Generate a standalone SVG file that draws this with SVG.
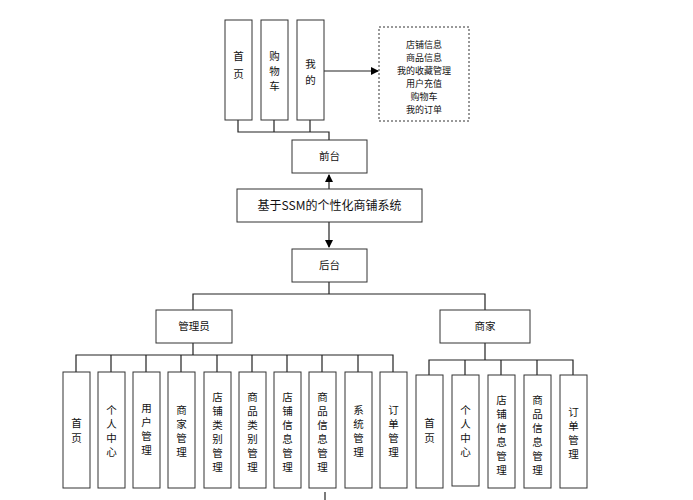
<svg xmlns="http://www.w3.org/2000/svg" width="693" height="500" viewBox="0 0 693 500">
<style>
.b{fill:#fff;stroke:#333;stroke-width:1}
.l{fill:none;stroke:#222;stroke-width:1.2}
text{font-family:"Noto Sans CJK SC","Liberation Sans",sans-serif;font-size:10.5px;fill:#111;text-anchor:middle}
#n-list text{font-size:9px}
</style>
<defs><marker id="a" markerWidth="8" markerHeight="8" refX="7" refY="4" orient="auto" markerUnits="userSpaceOnUse"><path d="M0,0L8,4L0,8z" fill="#000"/></marker></defs>
<rect width="693" height="500" fill="#fff"/>
<g id="connectors" class="l">
<path d="M238,120V132H329V140M274,120V132M310,120V132"/>
<path d="M324,71H378" marker-end="url(#a)"/>
<path d="M329,189V175" marker-end="url(#a)"/>
<path d="M329,222V247" marker-end="url(#a)"/>
<path d="M329,282V294M193,310V294H485V310"/>
<path d="M193,343V355M76,372V355H393V372M111,355V372M146,355V372M181,355V372M217,355V372M252,355V372M287,355V372M322,355V372M358,355V372"/>
<path d="M485,343V360M429,375V360H573V375M465,360V375M501,360V375M537,360V375"/>
<path d="M325,492V500"/>
</g>
<g id="n-home"><rect class="b" x="225" y="20" width="27" height="100"/><text x="238.5" y="60">首</text><text x="238.5" y="78">页</text></g>
<g id="n-cart"><rect class="b" x="261" y="20" width="27" height="100"/><text x="274.5" y="60">购</text><text x="274.5" y="75">物</text><text x="274.5" y="90">车</text></g>
<g id="n-mine"><rect class="b" x="297" y="20" width="27" height="100"/><text x="310.5" y="68">我</text><text x="310.5" y="84">的</text></g>
<g id="n-list"><rect x="379" y="27" width="90" height="94" fill="#fff" stroke="#333" stroke-dasharray="2,2"/>
<text x="424" y="48">店铺信息</text><text x="424" y="61">商品信息</text><text x="424" y="74">我的收藏管理</text><text x="424" y="87">用户充值</text><text x="424" y="100">购物车</text><text x="424" y="113">我的订单</text></g>
<g id="n-front"><rect class="b" x="292" y="140" width="75" height="33"/><text x="329.5" y="160">前台</text></g>
<g id="n-sys"><rect class="b" x="237" y="189" width="185" height="33"/><text x="329.5" y="210" style="font-size:12px">基于SSM的个性化商铺系统</text></g>
<g id="n-back"><rect class="b" x="292" y="249" width="75" height="33"/><text x="329.5" y="269">后台</text></g>
<g id="n-admin"><rect class="b" x="156" y="310" width="76" height="33"/><text x="194" y="330">管理员</text></g>
<g id="n-merchant"><rect class="b" x="440" y="310" width="90" height="33"/><text x="485" y="330">商家</text></g>
<g id="admin-children">
<g id="a1"><rect class="b" x="63" y="372" width="27" height="116"/><text x="76.5" y="427">首</text><text x="76.5" y="442">页</text></g>
<g id="a2"><rect class="b" x="98" y="372" width="27" height="116"/><text x="111.5" y="414">个</text><text x="111.5" y="428">人</text><text x="111.5" y="442">中</text><text x="111.5" y="456">心</text></g>
<g id="a3"><rect class="b" x="133" y="372" width="27" height="116"/><text x="146.5" y="412">用</text><text x="146.5" y="426">户</text><text x="146.5" y="440">管</text><text x="146.5" y="454">理</text></g>
<g id="a4"><rect class="b" x="168" y="372" width="27" height="116"/><text x="181.5" y="414">商</text><text x="181.5" y="428">家</text><text x="181.5" y="442">管</text><text x="181.5" y="456">理</text></g>
<g id="a5"><rect class="b" x="204" y="372" width="27" height="116"/><text x="217.5" y="401">店</text><text x="217.5" y="415">铺</text><text x="217.5" y="429">类</text><text x="217.5" y="443">别</text><text x="217.5" y="457">管</text><text x="217.5" y="471">理</text></g>
<g id="a6"><rect class="b" x="239" y="372" width="27" height="116"/><text x="252.5" y="401">商</text><text x="252.5" y="415">品</text><text x="252.5" y="429">类</text><text x="252.5" y="443">别</text><text x="252.5" y="457">管</text><text x="252.5" y="471">理</text></g>
<g id="a7"><rect class="b" x="274" y="372" width="27" height="116"/><text x="287.5" y="401">店</text><text x="287.5" y="415">铺</text><text x="287.5" y="429">信</text><text x="287.5" y="443">息</text><text x="287.5" y="457">管</text><text x="287.5" y="471">理</text></g>
<g id="a8"><rect class="b" x="309" y="372" width="27" height="116"/><text x="322.5" y="401">商</text><text x="322.5" y="415">品</text><text x="322.5" y="429">信</text><text x="322.5" y="443">息</text><text x="322.5" y="457">管</text><text x="322.5" y="471">理</text></g>
<g id="a9"><rect class="b" x="345" y="372" width="27" height="116"/><text x="358.5" y="414">系</text><text x="358.5" y="428">统</text><text x="358.5" y="442">管</text><text x="358.5" y="456">理</text></g>
<g id="a10"><rect class="b" x="380" y="372" width="27" height="116"/><text x="393.5" y="414">订</text><text x="393.5" y="428">单</text><text x="393.5" y="442">管</text><text x="393.5" y="456">理</text></g>
</g>
<g id="merchant-children">
<g id="m1"><rect class="b" x="416" y="375" width="27" height="113"/><text x="429.5" y="427">首</text><text x="429.5" y="442">页</text></g>
<g id="m2"><rect class="b" x="452" y="375" width="27" height="111"/><text x="465.5" y="414">个</text><text x="465.5" y="428">人</text><text x="465.5" y="442">中</text><text x="465.5" y="456">心</text></g>
<g id="m3"><rect class="b" x="488" y="375" width="27" height="113"/><text x="501.5" y="404">店</text><text x="501.5" y="418">铺</text><text x="501.5" y="432">信</text><text x="501.5" y="446">息</text><text x="501.5" y="460">管</text><text x="501.5" y="474">理</text></g>
<g id="m4"><rect class="b" x="524" y="375" width="27" height="113"/><text x="537.5" y="404">商</text><text x="537.5" y="418">品</text><text x="537.5" y="432">信</text><text x="537.5" y="446">息</text><text x="537.5" y="460">管</text><text x="537.5" y="474">理</text></g>
<g id="m5"><rect class="b" x="560" y="375" width="27" height="113"/><text x="573.5" y="416">订</text><text x="573.5" y="430">单</text><text x="573.5" y="444">管</text><text x="573.5" y="458">理</text></g>
</g>
</svg>
